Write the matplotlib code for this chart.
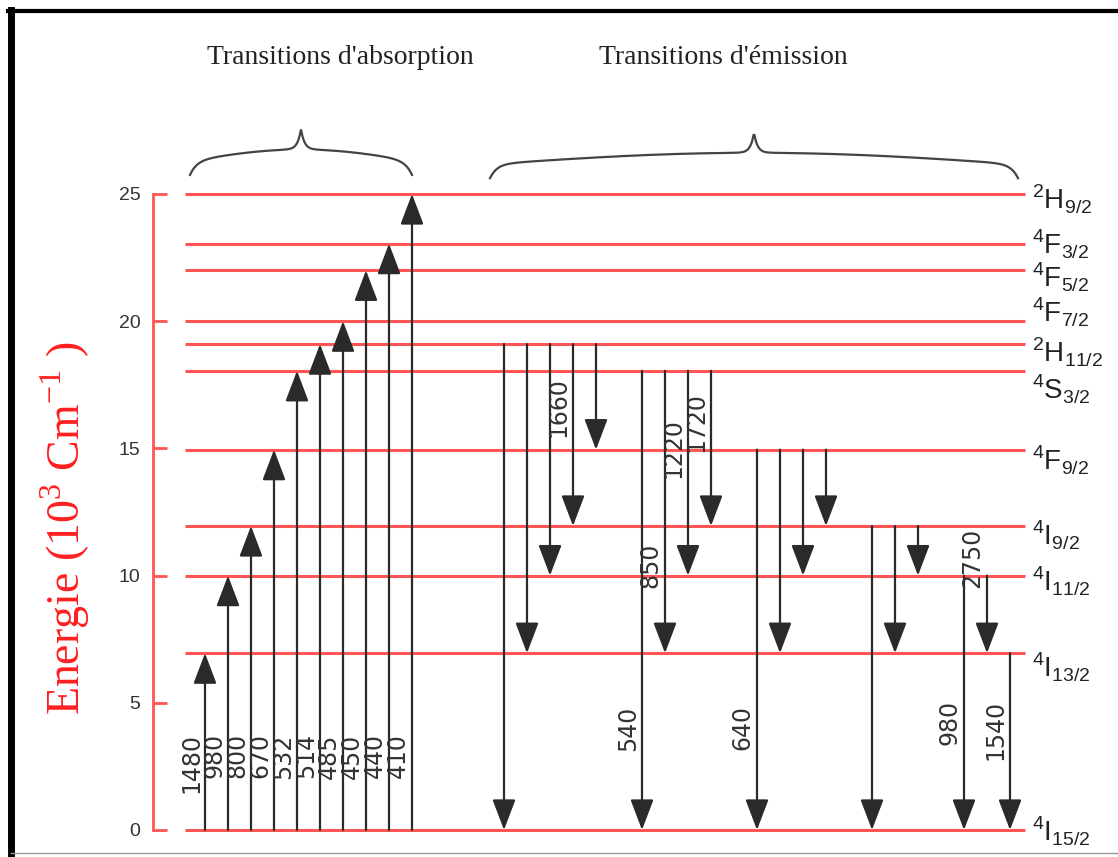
import numpy as np
import matplotlib
matplotlib.use('Agg')
import matplotlib.pyplot as plt
from matplotlib import font_manager
from matplotlib.lines import Line2D

# Er3+ energy levels (10^3 cm-1)
level_names = ['4I15/2', '4I13/2', '4I11/2', '4I9/2', '4F9/2', '4S3/2',
               '2H11/2', '4F7/2', '4F5/2', '4F3/2', '2H9/2']
level_tex = [('4', 'I', '15/2'), ('4', 'I', '13/2'), ('4', 'I', '11/2'), ('4', 'I', '9/2'),
             ('4', 'F', '9/2'), ('4', 'S', '3/2'), ('2', 'H', '11/2'), ('4', 'F', '7/2'),
             ('4', 'F', '5/2'), ('4', 'F', '3/2'), ('2', 'H', '9/2')]
level_energy = [0.0, 6.95, 10.0, 11.95, 14.95, 18.05, 19.1, 20.0, 22.0, 23.05, 25.0]

# absorption from the ground state, wavelength in nm
abs_upper = ['4I13/2', '4I11/2', '4I9/2', '4F9/2', '4S3/2',
             '2H11/2', '4F7/2', '4F5/2', '4F3/2', '2H9/2']
abs_nm = ['1480', '980', '800', '670', '532', '514', '485', '450', '440', '410']

# emission, grouped by upper level
em_upper = ['2H11/2'] * 5 + ['4S3/2'] * 4 + ['4F9/2'] * 4 + ['4I9/2'] * 3 + ['4I11/2'] * 2 + ['4I13/2']
em_lower = ['4I15/2', '4I13/2', '4I11/2', '4I9/2', '4F9/2',
            '4I15/2', '4I13/2', '4I11/2', '4I9/2',
            '4I15/2', '4I13/2', '4I11/2', '4I9/2',
            '4I15/2', '4I13/2', '4I11/2',
            '4I15/2', '4I13/2',
            '4I15/2']
em_nm = ['', '', '', '1660', '',
         '540', '850', '1220', '1720',
         '640', '', '', '',
         '', '', '',
         '980', '2750',
         '1540']

# layout (not data)
em_start = 13
group_gap = {'2H11/2': 0, '4S3/2': 1, '4F9/2': 1, '4I9/2': 1, '4I11/2': 1, '4I13/2': 0}
abs_label_top = 3.8
em_label_top = [0, 0, 0, 17.8, 0, 4.9, 11.3, 16.2, 17.2, 4.9, 0, 0, 0, 0, 0, 0, 5.1, 11.9, 5.1]
label_dy = [-0.45, -0.95, -0.6, -0.75, -0.8, -1.1, -0.7, -0.05, -0.65, -0.4, -0.6]

E = dict(zip(level_names, level_energy))

names = {f.name for f in font_manager.fontManager.ttflist}
narrow = 'Liberation Sans Narrow' if 'Liberation Sans Narrow' in names else 'Liberation Sans'
plt.rcParams['mathtext.fontset'] = 'custom'
plt.rcParams['mathtext.rm'] = 'Liberation Serif'
plt.rcParams['mathtext.sf'] = narrow

red = '#ff5555'
arrow_col = '#2a2a2a'
W, H = 1118, 857
fig = plt.figure(figsize=(W / 100, H / 100), dpi=100)
ax = fig.add_axes([153 / W, 0, 1 - 153 / W, 1])
step = 23.0
ax.set_xlim((153 - 205) / step, (W - 205) / step)
ax.set_ylim((830 - H) / 25.44, 830 / 25.44)

for s in ['top', 'right', 'bottom']:
    ax.spines[s].set_visible(False)
ax.spines['left'].set_bounds(0, 25)
ax.spines['left'].set_color(red)
ax.spines['left'].set_linewidth(2)
ax.set_xticks([])
ax.set_yticks([0, 5, 10, 15, 20, 25])
ax.tick_params(axis='y', direction='in', length=10, width=2, color=red,
               labelcolor='#333333', labelsize=14, pad=9)
for t in ax.get_yticklabels():
    t.set_family('Liberation Sans')

ax.set_ylabel(r'Energie (10$^{\mathrm{3}}$ Cm$^{\mathrm{-1}}$ )', color='#ff2020',
              fontsize=33, family='Liberation Serif')
ax.yaxis.set_label_coords((92 - 153) / (W - 153), (H - 528) / H)

# energy levels
x_left = (185 - 205) / step
x_right = (1025 - 205) / step
ax.hlines(level_energy, x_left, x_right, color=red, lw=2.2, zorder=1)
for (sup, sym, sub), e, dy in zip(level_tex, level_energy, label_dy):
    lab = r'${}^{\mathsf{%s}}\mathsf{%s}_{\mathsf{%s}}$' % (sup, sym, sub)
    ax.text(x_right + 0.3, e + dy, lab, fontsize=20, color='#222222',
            ha='left', va='baseline')


def arrow(x, y0, y1):
    ax.annotate('', xy=(x, y1), xytext=(x, y0),
                arrowprops=dict(arrowstyle='-|>,head_length=0.95,head_width=0.36',
                                mutation_scale=20, color=arrow_col, lw=1.6,
                                shrinkA=0, shrinkB=0), zorder=3)


# absorption arrows
for i, (up, nm) in enumerate(zip(abs_upper, abs_nm)):
    arrow(i, 0, E[up])
    ax.text(i - 0.08, abs_label_top, nm, rotation=90, ha='right', va='top',
            fontsize=17, color='#333333', family='DejaVu Sans')

# emission arrows
x = em_start - 1
prev = None
for up, lo, nm, top in zip(em_upper, em_lower, em_nm, em_label_top):
    x += 1
    if up != prev:
        x += group_gap[up]
        prev = up
    arrow(x, E[up], E[lo])
    if nm:
        ax.text(x - 0.1, top, nm, rotation=90, ha='right', va='top',
                fontsize=17, color='#333333', family='DejaVu Sans')


def brace(x0, x1, y0):
    xs = np.linspace(x0, x1, 600)
    half = (x1 - x0) / 2
    d = np.minimum(xs - x0, x1 - xs)
    m = np.abs(xs - (x0 + x1) / 2)
    ys = y0 + 0.55 * (1 - np.exp(-d / 0.3)) + 0.45 * np.sin(np.pi / 2 * d / half) \
        + 0.8 * np.exp(-m / 0.15)
    ax.plot(xs, ys, color='#444444', lw=1.6, clip_on=False)


brace((190 - 205) / step, (412 - 205) / step, 25.75)
brace((490 - 205) / step, (1018 - 205) / step, 25.62)

ax.text((340 - 205) / step, 30.35, "Transitions d'absorption", ha='center', va='center',
        fontsize=20, family='Liberation Serif', color='#222222')
ax.text((723 - 205) / step, 30.35, "Transitions d'émission", ha='center', va='center',
        fontsize=20, family='Liberation Serif', color='#222222')

# frame around the figure
fig.add_artist(Line2D([11 / W, 11 / W], [0, 1 - 10 / H], color='black', lw=5))
fig.add_artist(Line2D([8 / W, 1], [1 - 11 / H, 1 - 11 / H], color='black', lw=3))
fig.add_artist(Line2D([11 / W, 1], [4 / H, 4 / H], color='#999999', lw=1))

fig.savefig('out.png', dpi=100)
